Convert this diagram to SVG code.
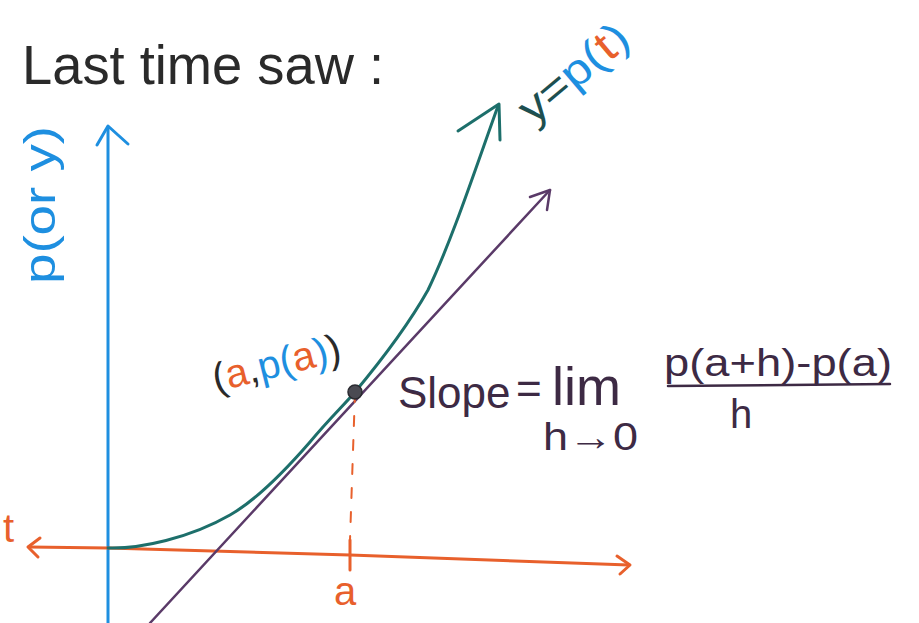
<svg xmlns="http://www.w3.org/2000/svg" width="919" height="623" viewBox="0 0 919 623">
<style>
.t{font-family:"Liberation Sans","DejaVu Sans",sans-serif;}
.ink{fill:#2a2a2a}
.pur{fill:#3d2a44}
.blue{fill:#1e8fe0}
.org{fill:#e8602c}
.ln{fill:none;stroke-linecap:round;stroke-linejoin:round}
</style>
<rect width="919" height="623" fill="#ffffff"/>
<g id="title"><text class="t ink" x="22" y="84" font-size="56" textLength="362" lengthAdjust="spacingAndGlyphs">Last time saw :</text></g>
<g id="y-axis">
<path class="ln" d="M108,623 L108,127" stroke="#1e8fe0" stroke-width="3"/>
<path class="ln" d="M97,145 L108,126 L128,144" stroke="#1e8fe0" stroke-width="3"/>
<text class="t blue" transform="translate(55,205) rotate(-90)" font-size="44" text-anchor="middle" textLength="158" lengthAdjust="spacingAndGlyphs">p(or y)</text>
</g>
<g id="t-axis">
<path class="ln" d="M29,547 L108,548 L350,555 L629,565" stroke="#e8602c" stroke-width="3"/>
<path class="ln" d="M40,538 L28,547 L38,557" stroke="#e8602c" stroke-width="3"/>
<path class="ln" d="M617,556 L630,565 L620,574" stroke="#e8602c" stroke-width="3"/>
<path class="ln" d="M350,540 L350,570" stroke="#e8602c" stroke-width="3"/>
<text class="t org" x="3" y="542" font-size="40">t</text>
<text class="t org" x="334" y="605" font-size="40">a</text>
</g>
<g id="tangent">
<path class="ln" d="M150,623 L550,190" stroke="#5a3a68" stroke-width="2.5"/>
<path class="ln" d="M530,197 L550,190 L547,210" stroke="#5a3a68" stroke-width="2.5"/>
</g>
<g id="curve">
<path class="ln" d="M108,548 C140,549 190,538 230,515 C260,498 290,465 310,442 C330,418 345,404 355,392 C385,356 410,322 428,290 C452,240 475,170 498,106" stroke="#1d6f6b" stroke-width="3"/>
<path class="ln" d="M458,131 L499,104 L500,140" stroke="#1d6f6b" stroke-width="3"/>
<g transform="translate(533,126) rotate(-40)">
<text class="t" font-size="44" x="0" y="0" textLength="130" lengthAdjust="spacingAndGlyphs"><tspan fill="#1d4f50">y=</tspan><tspan class="blue">p(</tspan><tspan class="org">t</tspan><tspan class="blue">)</tspan></text>
</g>
</g>
<g id="point">
<path class="ln" d="M355,392 L350,540" stroke="#e8602c" stroke-width="2" stroke-dasharray="10,14"/>
<circle cx="355" cy="392" r="7" fill="#4a4a52" stroke="#2a2a30" stroke-width="1.5"/>
<g transform="translate(216,392) rotate(-14)">
<text class="t" font-size="40" x="0" y="0"><tspan class="ink">(</tspan><tspan class="org">a</tspan><tspan class="ink">,</tspan><tspan class="blue">p(</tspan><tspan class="org">a</tspan><tspan class="blue">)</tspan><tspan class="ink">)</tspan></text>
</g>
</g>
<g id="slope">
<text class="t pur" x="398" y="408" font-size="44">Slope</text>
<text class="t pur" x="516" y="404" font-size="44">=</text>
<text class="t pur" x="552" y="405" font-size="54">lim</text>
<text class="t pur" x="543" y="450" font-size="38" textLength="95" lengthAdjust="spacingAndGlyphs">h→0</text>
<text class="t pur" x="664" y="376" font-size="38" textLength="228" lengthAdjust="spacingAndGlyphs">p(a+h)-p(a)</text>
<path class="ln" d="M668,386 L890,384" stroke="#3d2a44" stroke-width="2.5"/>
<text class="t pur" x="730" y="428" font-size="40">h</text>
</g>
</svg>
